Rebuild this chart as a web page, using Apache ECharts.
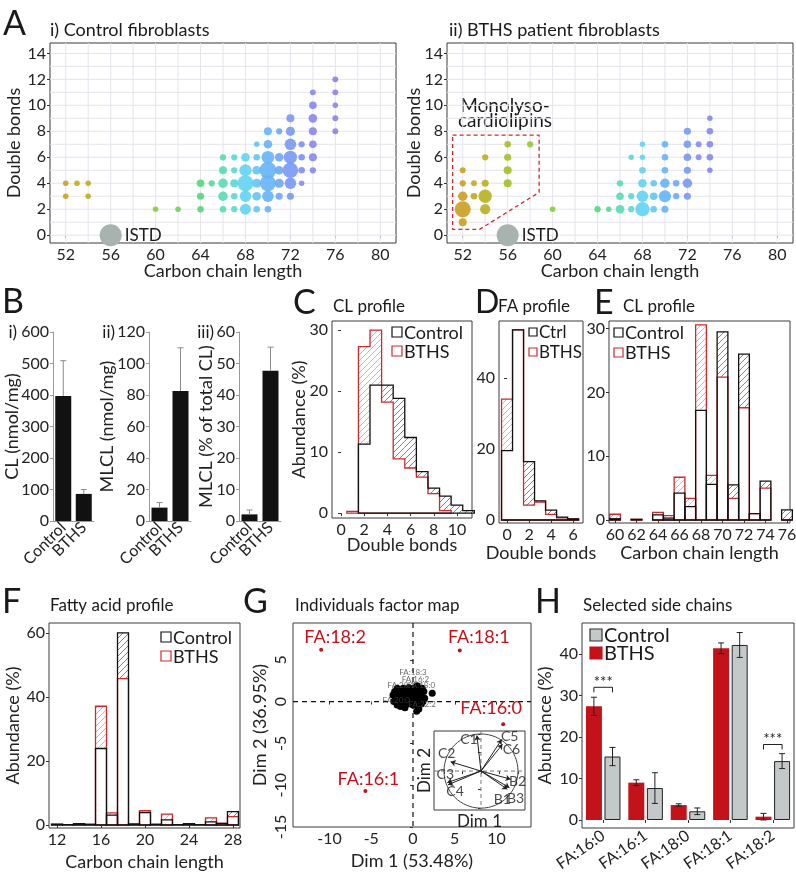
<!DOCTYPE html>
<html lang="en">
<head>
<meta charset="UTF-8">
<title>Cardiolipin profiles - control vs BTHS fibroblasts</title>
<script src="https://cdn.jsdelivr.net/npm/echarts@6/dist/echarts.min.js"></script>
<style>
  html, body { margin: 0; padding: 0; background: #fff; }
  #main { width: 796px; height: 887px; }
</style>
</head>
<body>
<div id="main"></div>
<script type="text/javascript">
  var FONT = 'Lato';
  var RED = '#c4121a';
  var OUT_RED = '#cc2a2f';
  var TXT = '#1a1a1a';

  // ---------- A: cardiolipin species [carbon chain length, double bonds, abundance %]
  var ctrlSpecies = [
    [52, 4, 0.3], [52, 3, 0.3], [53, 4, 0.3], [54, 4, 0.3], [54, 3, 0.3],
    [60, 2, 0.3], [62, 2, 0.3],
    [64, 4, 1.0], [64, 3, 0.8], [64, 2, 0.6], [65, 4, 0.5],
    [66, 6, 0.5], [66, 5, 1.2], [66, 4, 2.0], [66, 3, 2.0], [66, 2, 0.6],
    [67, 6, 0.5], [67, 5, 0.5], [67, 4, 1.2], [67, 3, 0.6], [67, 2, 0.5],
    [68, 6, 1.5], [68, 5, 4.0], [68, 4, 8.0], [68, 3, 3.5], [68, 2, 3.0],
    [69, 7, 0.3], [69, 6, 0.6], [69, 5, 1.5], [69, 4, 1.8], [69, 3, 1.5], [69, 2, 0.6],
    [70, 8, 1.2], [70, 7, 1.5], [70, 6, 4.5], [70, 5, 9.0], [70, 4, 8.0], [70, 3, 3.5], [70, 2, 0.6],
    [71, 8, 0.5], [71, 6, 1.5], [71, 5, 1.5], [71, 4, 1.8], [71, 3, 0.8],
    [72, 9, 1.2], [72, 8, 1.8], [72, 7, 3.5], [72, 6, 5.0], [72, 5, 7.5], [72, 4, 3.5], [72, 3, 0.8],
    [73, 7, 0.5], [73, 6, 0.6], [73, 5, 0.6], [73, 4, 0.3],
    [74, 11, 0.4], [74, 10, 1.0], [74, 9, 1.5], [74, 8, 1.2], [74, 7, 1.0], [74, 6, 1.2], [74, 5, 0.5],
    [76, 12, 0.4], [76, 11, 0.4], [76, 10, 0.3], [76, 9, 0.4], [76, 8, 0.4]
  ];
  var bthsSpecies = [
    [52, 5, 0.4], [52, 4, 0.5], [52, 3, 2.0], [52, 2, 8.0], [52, 1, 1.2],
    [53, 4, 0.4], [53, 3, 0.6],
    [54, 6, 0.5], [54, 4, 0.8], [54, 3, 5.0], [54, 2, 2.5],
    [56, 7, 0.6], [56, 6, 0.8], [56, 5, 1.2], [56, 4, 1.2],
    [58, 7, 0.5],
    [60, 2, 0.3],
    [64, 2, 0.5], [65, 2, 0.3], [66, 4, 0.5], [66, 3, 1.0], [66, 2, 1.5],
    [67, 6, 0.3], [67, 3, 0.5], [67, 2, 0.5],
    [68, 7, 0.3], [68, 6, 0.3], [68, 5, 0.6], [68, 4, 1.5], [68, 3, 3.5], [68, 2, 6.0],
    [69, 4, 0.6], [69, 3, 1.0], [69, 2, 0.6],
    [70, 7, 0.6], [70, 6, 0.6], [70, 5, 0.6], [70, 4, 2.0], [70, 3, 4.0], [70, 2, 0.8],
    [71, 4, 0.6], [71, 3, 0.5],
    [72, 8, 0.8], [72, 7, 1.0], [72, 6, 1.0], [72, 5, 0.8], [72, 4, 2.0], [72, 3, 0.8],
    [73, 7, 0.4], [73, 6, 0.4],
    [74, 9, 0.3], [74, 8, 0.6], [74, 7, 0.6], [74, 6, 0.6], [74, 5, 0.3]
  ];
  var istd = [[56, 0]];
  var carbonTicks = [52, 56, 60, 64, 68, 72, 76, 80];
  var bondTicks = [0, 2, 4, 6, 8, 10, 12, 14];
  var gridXs = [52, 54, 56, 58, 60, 62, 64, 66, 68, 70, 72, 74, 76, 78, 80];
  var gridYs = [0, 1, 2, 3, 4, 5, 6, 7, 8, 9, 10, 11, 12, 13, 14];
  var mlclZone = [[51.1, 7.7], [58.8, 7.7], [58.8, 3.3], [53.5, 0.45], [51.1, 0.45], [51.1, 7.7]];

  // ---------- B: totals
  var groups = ['Control', 'BTHS'];
  var clMean = [397, 86], clErr = [112, 14];
  var mlclMean = [8.5, 82.5], mlclErr = [3.2, 27.5];
  var mlclPct = [2.1, 47.7], mlclPctErr = [1.4, 7.5];

  // ---------- C: CL profile by double bonds
  var cBonds = [0, 1, 2, 3, 4, 5, 6, 7, 8, 9, 10, 11];
  var cCtrl = [0, 0, 11.3, 21.0, 21.0, 18.8, 12.4, 6.8, 4.1, 2.8, 1.3, 0.4];
  var cBths = [0, 0.3, 27.3, 30.0, 18.2, 8.9, 7.4, 5.9, 3.2, 0.4, 0, 0];

  // ---------- D: FA profile by double bonds
  var dBonds = [0, 1, 2, 3, 4, 5, 6];
  var dCtrl = [19.5, 53.5, 16.4, 5.4, 2.8, 0.8, 0.3];
  var dBths = [34.0, 53.5, 4.2, 5.0, 1.6, 0.6, 0.3];

  // ---------- E: CL profile by chain length
  var eLength = [60, 62, 64, 65, 66, 67, 68, 69, 70, 71, 72, 73, 74, 76];
  var eCtrl = [0.2, 0.1, 0.8, 0.3, 4.2, 2.1, 17.2, 5.6, 29.5, 5.5, 26.0, 1.0, 6.1, 1.6];
  var eBths = [0.9, 0.1, 1.2, 0.7, 6.7, 3.4, 30.6, 7.0, 22.4, 3.4, 17.6, 1.0, 5.0, 0];

  // ---------- F: fatty acid profile
  var fLength = [12, 13, 14, 15, 16, 17, 18, 19, 20, 21, 22, 23, 24, 25, 26, 27, 28];
  var fCtrl = [0.2, 0.1, 0.4, 0.2, 23.9, 3.1, 60.0, 0.3, 3.9, 0.2, 1.6, 0.1, 0.4, 0.1, 1.0, 0.5, 4.2];
  var fBths = [0.3, 0.1, 0.3, 0.2, 37.1, 3.8, 45.7, 0.3, 4.5, 0.2, 3.4, 0.1, 0.3, 0.1, 2.2, 0.5, 2.6];

  // ---------- G: PCA individuals
  var pcaNames = ['FA:18:2', 'FA:18:1', 'FA:16:0', 'FA:16:1'];
  var pcaX = [-11.0, 5.6, 10.8, -5.7];
  var pcaY = [6.2, 6.1, -2.7, -10.7];
  var clusterPts = [
    [-1.9, 1.6], [-1.2, 1.6], [-0.5, 1.7], [0.1, 1.6], [0.6, 1.5], [1.1, 1.6],
    [-2.2, 1.2], [-1.6, 1.2], [-1.0, 1.3], [-0.4, 1.2], [0.2, 1.1], [0.8, 1.2], [1.3, 1.2],
    [-2.4, 0.8], [-1.8, 0.8], [-1.3, 0.9], [-0.7, 0.8], [-0.1, 0.8], [0.4, 0.7], [1.0, 0.8],
    [-2.1, 0.4], [-1.5, 0.4], [-0.9, 0.5], [-0.3, 0.4], [0.3, 0.3], [0.9, 0.4], [1.4, 0.4],
    [-2.3, 0.0], [-1.7, 0.0], [-1.1, 0.1], [-0.5, 0.0], [0.1, 0.0], [0.6, 0.1], [1.2, 0.0],
    [-1.9, -0.4], [-1.2, -0.4], [-0.6, -0.3], [0.0, -0.4], [0.5, -0.4], [1.0, -0.3],
    [-1.5, -0.6], [-0.96, -0.75], [0.7, -0.9], [0.44, -1.15], [2.3, 1.0],
    [-0.8, 1.5], [0.5, 1.9], [-1.6, 0.2], [0.7, -0.2], [-0.2, 1.0]
  ];
  var clusterNames = ['FA:18:3', 'FA:16:2', 'FA:28:1', 'FA:18:0', 'FA:20:0', 'FA:22:2'];
  var clusterNameX = [0.0, 0.3, -1.4, 1.0, -2.0, 1.1];
  var clusterNameY = [3.5, 2.7, 1.9, 1.9, 0.15, -0.35];

  // ---------- G inset: variable loadings
  var loadNames = ['C1', 'C5', 'C6', 'C2', 'C3', 'C4', 'B2', 'B1', 'B3'];
  var loadX = [-0.11, 0.56, 0.58, -0.82, -0.91, -0.89, 0.80, 0.71, 0.77];
  var loadY = [0.96, 0.85, 0.72, 0.25, -0.31, -0.37, -0.22, -0.49, -0.45];

  // ---------- H: selected side chains
  var hChains = ['FA:16:0', 'FA:16:1', 'FA:18:0', 'FA:18:1', 'FA:18:2'];
  var hBths = [27.4, 9.0, 3.6, 41.4, 0.8];
  var hBthsSd = [2.2, 0.7, 0.3, 1.3, 0.8];
  var hCtrl = [15.3, 7.7, 2.1, 42.2, 14.2];
  var hCtrlSd = [2.2, 3.7, 0.8, 3.0, 1.8];
  var hSig = [['FA:16:0', 32.0], ['FA:18:2', 18.2]];

  // ---------- styles that are not data
  var hueStops = ['#c9a020', '#b8b020', '#a6be28', '#96c82e', '#80d036', '#68d556', '#55d680',
                  '#56dbb0', '#62d3f2', '#66b4f7', '#7898f4', '#8886ef', '#9a7ce8'];
  var pcaLabelOffset = { 'FA:18:2': [14, 2], 'FA:18:1': [19, 2], 'FA:16:0': [-12, -1], 'FA:16:1': [3, 3] };
  var loadLabelOffset = { C1: [-8, 4], C5: [8, -3], C6: [9, 5], C2: [-4, -8], C3: [-2, -8],
                          C4: [7, 7], B2: [7, 2], B1: [-5, 10], B3: [6, 11] };

  function hatch(color) {
    var n = 6;
    var c = document.createElement('canvas');
    c.width = n; c.height = n;
    var g = c.getContext('2d');
    g.fillStyle = '#fff'; g.fillRect(0, 0, n, n);
    g.strokeStyle = color; g.lineWidth = 0.8;
    g.beginPath();
    g.moveTo(0, n); g.lineTo(n, 0);
    g.moveTo(-1, 1); g.lineTo(1, -1);
    g.moveTo(n - 1, n + 1); g.lineTo(n + 1, n - 1);
    g.stroke();
    return { image: c, repeat: 'repeat' };
  }
  var redHatch = hatch('#e69494');
  var darkHatch = hatch('#666');

  function merge(a, b) {
    for (var k in b) {
      if (b[k] && typeof b[k] === 'object' && !Array.isArray(b[k]) && a[k] && typeof a[k] === 'object') merge(a[k], b[k]);
      else a[k] = b[k];
    }
    return a;
  }

  function box(l, t, w, h, framed, bg) {
    return { left: l, top: t, width: w, height: h, show: !!framed, borderColor: '#3a3a3a', borderWidth: 1,
             backgroundColor: bg || 'transparent', containLabel: false, outerBoundsMode: 'none' };
  }

  function valAxis(gi, min, max, ticks, extra) {
    return merge({
      type: 'value', gridIndex: gi, min: min, max: max,
      axisLine: { show: false },
      axisTick: { show: true, length: 3, customValues: ticks, lineStyle: { color: '#333' } },
      axisLabel: { customValues: ticks, fontFamily: FONT, fontSize: 16, color: '#222', margin: 4 },
      splitLine: { show: false },
      nameLocation: 'middle', nameMoveOverlap: false,
      nameTextStyle: { fontFamily: FONT, fontSize: 18, color: '#222' }
    }, extra || {});
  }

  function catAxis(gi, cats, extra) {
    return merge({
      type: 'category', gridIndex: gi, data: cats,
      axisLine: { show: true, lineStyle: { color: '#999' } },
      axisTick: { show: false },
      axisLabel: { interval: 0, fontFamily: FONT, fontSize: 16, color: '#222', margin: 4 },
      splitLine: { show: false }
    }, extra || {});
  }

  // reference lines through the whole grid (grid lines, zero lines)
  function guideSeries(gi, xs, ys, style, z) {
    var data = xs.map(function (v) { return [0, v]; }).concat(ys.map(function (v) { return [1, v]; }));
    return {
      type: 'custom', xAxisIndex: gi, yAxisIndex: gi, silent: true, z: z || 1, data: data,
      renderItem: function (params, api) {
        var cs = params.coordSys, v = api.value(1), s;
        if (api.value(0) === 0) {
          var p = api.coord([v, 0]);
          s = { x1: p[0], y1: cs.y, x2: p[0], y2: cs.y + cs.height };
        } else {
          var q = api.coord([0, v]);
          s = { x1: cs.x, y1: q[1], x2: cs.x + cs.width, y2: q[1] };
        }
        return { type: 'line', shape: s, style: style };
      }
    };
  }

  function hatchSeries(gi, xs, ctrl, bths) {
    return {
      type: 'custom', xAxisIndex: gi, yAxisIndex: gi, silent: true, z: 2,
      data: xs.map(function (x, i) { return [x, ctrl[i], bths[i]]; }),
      renderItem: function (params, api) {
        var x = api.value(0), c = api.value(1), b = api.value(2);
        if (Math.abs(c - b) < 1e-9) return;
        var p0 = api.coord([x - 0.5, Math.max(c, b)]);
        var p1 = api.coord([x + 0.5, Math.min(c, b)]);
        return { type: 'rect', shape: { x: p0[0], y: p0[1], width: p1[0] - p0[0], height: p1[1] - p0[1] },
                 style: { fill: b > c ? redHatch : darkHatch, stroke: null } };
      }
    };
  }

  function boxOutline(gi, xs, vals, color) {
    return {
      type: 'custom', xAxisIndex: gi, yAxisIndex: gi, silent: true, z: 3,
      data: xs.map(function (x, i) { return [x, vals[i]]; }),
      renderItem: function (params, api) {
        var a = api.coord([api.value(0) - 0.5, api.value(1)]);
        var b = api.coord([api.value(0) + 0.5, 0]);
        return { type: 'rect', shape: { x: a[0], y: a[1], width: b[0] - a[0], height: b[1] - a[1] },
                 style: { fill: 'none', stroke: color, lineWidth: 1.3 } };
      }
    };
  }

  function stepOutline(gi, xs, vals, color) {
    return {
      type: 'custom', xAxisIndex: gi, yAxisIndex: gi, silent: true, z: 3, data: [[xs[0], 0]],
      renderItem: function (params, api) {
        var lo = 0, hi = vals.length - 1;
        while (lo < hi && !vals[lo]) lo++;
        while (hi > lo && !vals[hi]) hi--;
        var pts = [api.coord([xs[lo] - 0.5, 0])];
        for (var i = lo; i <= hi; i++) {
          pts.push(api.coord([xs[i] - 0.5, vals[i]]));
          pts.push(api.coord([xs[i] + 0.5, vals[i]]));
        }
        pts.push(api.coord([xs[hi] + 0.5, 0]));
        return { type: 'polygon', shape: { points: pts }, style: { fill: 'none', stroke: color, lineWidth: 1.3 } };
      }
    };
  }

  function errorSeries(gi, means, errs, shift, color, twoSided) {
    return {
      type: 'custom', xAxisIndex: gi, yAxisIndex: gi, silent: true, z: 4,
      data: means.map(function (m, i) { return [i, m, errs[i]]; }),
      renderItem: function (params, api) {
        var i = api.value(0), m = api.value(1), e = api.value(2);
        var top = api.coord([i, m + e]), bot = api.coord([i, twoSided ? m - e : m]);
        var x = top[0] + shift, w = 3, st = { stroke: color, lineWidth: 1 };
        var kids = [
          { type: 'line', shape: { x1: x, y1: top[1], x2: x, y2: bot[1] }, style: st },
          { type: 'line', shape: { x1: x - w, y1: top[1], x2: x + w, y2: top[1] }, style: st }
        ];
        if (twoSided) kids.push({ type: 'line', shape: { x1: x - w, y1: bot[1], x2: x + w, y2: bot[1] }, style: st });
        return { type: 'group', children: kids };
      }
    };
  }

  function bubble(v) { return 3 + 4.6 * Math.sqrt(v[2]); }

  function label(x, y, s, size, align, extra) {
    var st = { text: s, x: x, y: y, font: (size || 17) + 'px ' + FONT, fill: TXT,
               textAlign: align || 'left', align: align || 'left',
               textVerticalAlign: 'middle', verticalAlign: 'middle' };
    return { type: 'text', silent: true, style: merge(st, extra || {}) };
  }

  function legendItem(x, y, s, stroke, fill, text, size) {
    return [
      { type: 'rect', silent: true, shape: { x: x, y: y, width: s, height: s },
        style: { fill: fill || '#fff', stroke: stroke, lineWidth: 1.2 } },
      label(x + s + 2, y + s / 2 + 1, text, size)
    ];
  }

  // ---------- grids
  var grids = [
    box(50, 43, 346, 200, true),     // 0 A i
    box(447, 43, 346, 200, true),    // 1 A ii
    box(53, 332, 41, 189, false),    // 2 B i
    box(149, 332, 42, 189, false),   // 3 B ii
    box(239, 332, 42, 189, false),   // 4 B iii
    box(332, 321, 140, 197, true),   // 5 C
    box(499, 321, 84, 202, true),    // 6 D
    box(609, 321, 181, 202, true),   // 7 E
    box(49, 623, 191, 205, true),    // 8 F
    box(293, 623, 238, 204, true),   // 9 G
    box(434, 731, 91, 79, true, '#fff'), // 10 G inset
    box(582, 623, 212, 205, true)    // 11 H
  ];

  var xAxes = [
    valAxis(0, 50.6, 81.4, carbonTicks, { name: 'Carbon chain length', nameGap: 19 }),
    valAxis(1, 50.6, 81.4, carbonTicks, { name: 'Carbon chain length', nameGap: 19 }),
    catAxis(2, groups, { axisLabel: { rotate: 45 } }),
    catAxis(3, groups, { axisLabel: { rotate: 45 } }),
    catAxis(4, groups, { axisLabel: { rotate: 45 } }),
    valAxis(5, -0.78, 11.3, [0, 2, 4, 6, 8, 10], { name: 'Double bonds', nameGap: 18 }),
    valAxis(6, -0.73, 6.9, [0, 2, 4, 6], { name: 'Double bonds', nameGap: 21 }),
    valAxis(7, 59.44, 76.28, [60, 62, 64, 66, 68, 70, 72, 74, 76], { name: 'Carbon chain length', nameGap: 21 }),
    valAxis(8, 11.27, 28.64, [12, 16, 20, 24, 28], { name: 'Carbon chain length', nameGap: 25 }),
    valAxis(9, -14.37, 14.13, [-10, -5, 0, 5, 10], { name: 'Dim 1 (53.48%)', nameGap: 25 }),
    valAxis(10, -1.27, 1.19, [-1, -0.5, 0, 0.5, 1], { name: 'Dim 1', nameGap: 3, axisLabel: { show: false },
      nameTextStyle: { fontSize: 17 } }),
    catAxis(11, hChains, { axisLine: { show: false }, axisTick: { show: true, length: 3, alignWithLabel: true, lineStyle: { color: '#333' } },
      axisLabel: { rotate: 35, margin: 6 } })
  ];

  var yAxes = [
    valAxis(0, -0.6, 14.8, bondTicks, { name: 'Double bonds', nameGap: 27 }),
    valAxis(1, -0.6, 14.8, bondTicks, { name: 'Double bonds', nameGap: 24 }),
    valAxis(2, 0, 600, null, { interval: 100, name: 'CL (nmol/mg)', nameGap: 32,
      axisLine: { show: true, lineStyle: { color: '#999' } }, axisTick: { lineStyle: { color: '#999' } } }),
    valAxis(3, 0, 120, null, { interval: 20, name: 'MLCL (nmol/mg)', nameGap: 33,
      axisLine: { show: true, lineStyle: { color: '#999' } }, axisTick: { lineStyle: { color: '#999' } } }),
    valAxis(4, 0, 60, null, { interval: 10, name: 'MLCL (% of total CL)', nameGap: 24,
      axisLine: { show: true, lineStyle: { color: '#999' } }, axisTick: { lineStyle: { color: '#999' } } }),
    valAxis(5, -0.8, 31.5, [0, 10, 20, 30], { name: 'Abundance (%)', nameGap: 24 }),
    valAxis(6, -0.85, 56, [0, 20, 40], {}),
    valAxis(7, -0.47, 31.2, [0, 10, 20, 30], {}),
    valAxis(8, -0.94, 63.1, [0, 20, 40, 60], { name: 'Abundance (%)', nameGap: 27 }),
    valAxis(9, -15, 9.4, [-15, -10, -5, 0, 5], { name: 'Dim 2 (36.95%)', nameGap: 24, axisLabel: { rotate: 90 } }),
    valAxis(10, -1.05, 1.08, [-1, -0.5, 0, 0.5, 1], { name: 'Dim 2', nameGap: 1, axisLabel: { show: false },
      nameTextStyle: { fontSize: 17 } }),
    valAxis(11, -1.93, 47.5, [0, 10, 20, 30, 40], { name: 'Abundance (%)', nameGap: 28 })
  ];
  // panel B keeps auto ticks from interval
  [2, 3, 4].forEach(function (i) { delete yAxes[i].axisLabel.customValues; delete yAxes[i].axisTick.customValues; });

  // ---------- series
  var GRIDLINE = { stroke: '#e4e4ec', lineWidth: 1 };
  var series = [];

  series.push(guideSeries(0, gridXs, gridYs, GRIDLINE));
  series.push(guideSeries(1, gridXs, gridYs, GRIDLINE));
  var idxA1 = series.length;
  series.push({ type: 'scatter', name: 'Control species', xAxisIndex: 0, yAxisIndex: 0, data: ctrlSpecies,
                symbolSize: bubble, itemStyle: { opacity: 0.9, borderWidth: 0 }, z: 3 });
  var idxA2 = series.length;
  series.push({ type: 'scatter', name: 'BTHS species', xAxisIndex: 1, yAxisIndex: 1, data: bthsSpecies,
                symbolSize: bubble, itemStyle: { opacity: 0.9, borderWidth: 0 }, z: 3 });
  [0, 1].forEach(function (gi) {
    series.push({ type: 'scatter', name: 'ISTD', xAxisIndex: gi, yAxisIndex: gi, data: istd, symbolSize: 22,
                  itemStyle: { color: '#a8b3af', opacity: 1 }, z: 3,
                  label: { show: true, position: 'right', distance: 3, formatter: 'ISTD',
                           fontFamily: FONT, fontSize: 17, color: TXT } });
  });
  series.push({ type: 'line', name: 'MLCL region', xAxisIndex: 1, yAxisIndex: 1, data: mlclZone, symbol: 'none',
                silent: true, z: 4, lineStyle: { color: OUT_RED, width: 1.3, type: [4, 3] } });

  // B
  [[2, clMean, clErr], [3, mlclMean, mlclErr], [4, mlclPct, mlclPctErr]].forEach(function (b) {
    series.push({ type: 'bar', xAxisIndex: b[0], yAxisIndex: b[0], data: b[1], barWidth: 16,
                  itemStyle: { color: '#111' }, z: 2 });
    series.push(errorSeries(b[0], b[1], b[2], 0, '#8a8a8a', false));
  });

  // C, D: step histograms
  series.push(hatchSeries(5, cBonds, cCtrl, cBths));
  series.push(stepOutline(5, cBonds, cBths, OUT_RED));
  series.push(stepOutline(5, cBonds, cCtrl, '#111'));
  series.push(hatchSeries(6, dBonds, dCtrl, dBths));
  series.push(stepOutline(6, dBonds, dBths, OUT_RED));
  series.push(stepOutline(6, dBonds, dCtrl, '#111'));

  // E, F: boxed bars
  series.push(hatchSeries(7, eLength, eCtrl, eBths));
  series.push(boxOutline(7, eLength, eBths, OUT_RED));
  series.push(boxOutline(7, eLength, eCtrl, '#111'));
  series.push(hatchSeries(8, fLength, fCtrl, fBths));
  series.push(boxOutline(8, fLength, fBths, OUT_RED));
  series.push(boxOutline(8, fLength, fCtrl, '#111'));

  // G: individuals factor map
  series.push(guideSeries(9, [0], [0], { stroke: '#111', lineWidth: 1.2, lineDash: [5, 4] }, 1));
  series.push({ type: 'scatter', xAxisIndex: 9, yAxisIndex: 9, data: clusterPts, symbolSize: 7,
                itemStyle: { color: '#000', opacity: 1, borderWidth: 0 }, z: 3, silent: true });
  series.push({ type: 'scatter', xAxisIndex: 9, yAxisIndex: 9, symbolSize: 0, z: 4, silent: true,
                data: clusterNames.map(function (n, i) { return { name: n, value: [clusterNameX[i], clusterNameY[i]] }; }),
                label: { show: true, position: 'inside', formatter: '{b}', fontFamily: FONT, fontSize: 8, color: '#444' } });
  series.push({ type: 'scatter', xAxisIndex: 9, yAxisIndex: 9, symbolSize: 4, z: 4, silent: true,
                itemStyle: { color: RED, opacity: 1 },
                data: pcaNames.map(function (n, i) {
                  return { name: n, value: [pcaX[i], pcaY[i]], label: { offset: pcaLabelOffset[n] } };
                }),
                label: { show: true, position: 'top', distance: 4, formatter: '{b}', fontFamily: FONT, fontSize: 18,
                         color: RED, textBorderWidth: 0, opacity: 1 } });

  // G inset: correlation circle
  series.push({ type: 'custom', xAxisIndex: 10, yAxisIndex: 10, silent: true, z: 2, data: [[0, 0]],
                renderItem: function (params, api) {
                  var c = api.coord([0, 0]), r = api.size([1, 1]);
                  return { type: 'ellipse', shape: { cx: c[0], cy: c[1], rx: r[0], ry: r[1] },
                           style: { fill: 'none', stroke: '#444', lineWidth: 1 } };
                } });
  series.push(guideSeries(10, [0], [0], { stroke: '#777', lineWidth: 1, lineDash: [4, 3] }, 2));
  series.push({ type: 'lines', coordinateSystem: 'cartesian2d', xAxisIndex: 10, yAxisIndex: 10, z: 3, silent: true,
                symbol: ['none', 'arrow'], symbolSize: 5, lineStyle: { color: '#222', width: 1, opacity: 1 },
                data: loadNames.map(function (n, i) { return { name: n, coords: [[0, 0], [loadX[i], loadY[i]]] }; }) });
  series.push({ type: 'scatter', xAxisIndex: 10, yAxisIndex: 10, symbolSize: 0, z: 4, silent: true,
                data: loadNames.map(function (n, i) {
                  return { name: n, value: [loadX[i], loadY[i]], label: { offset: loadLabelOffset[n] } };
                }),
                label: { show: true, position: 'inside', formatter: '{b}', fontFamily: FONT, fontSize: 14, color: TXT } });

  // H: selected side chains
  var BAR_W = 16, HALF = 9.3;
  series.push({ type: 'bar', name: 'BTHS', xAxisIndex: 11, yAxisIndex: 11, data: hBths, barWidth: BAR_W, barGap: '16%',
                itemStyle: { color: RED }, z: 2 });
  series.push({ type: 'bar', name: 'Control', xAxisIndex: 11, yAxisIndex: 11, data: hCtrl, barWidth: BAR_W, barGap: '16%',
                itemStyle: { color: '#c3c8c8', borderColor: '#222', borderWidth: 1 }, z: 2 });
  series.push(errorSeries(11, hBths, hBthsSd, -HALF, '#222', true));
  series.push(errorSeries(11, hCtrl, hCtrlSd, HALF, '#222', true));
  series.push({ type: 'custom', xAxisIndex: 11, yAxisIndex: 11, silent: true, z: 4,
                data: hSig.map(function (s) { return [hChains.indexOf(s[0]), s[1]]; }),
                renderItem: function (params, api) {
                  var c = api.coord([api.value(0), api.value(1)]);
                  var l = c[0] - HALF, r = c[0] + HALF, y = c[1];
                  return { type: 'group', children: [
                    { type: 'polyline', shape: { points: [[l, y + 5], [l, y], [r, y], [r, y + 5]] },
                      style: { fill: 'none', stroke: '#222', lineWidth: 1 } },
                    { type: 'text', style: { text: '***', x: c[0], y: y - 5, font: '15px ' + FONT, fill: '#222',
                      textAlign: 'center', align: 'center', textVerticalAlign: 'middle', verticalAlign: 'middle' } }
                  ] };
                } });

  // ---------- titles, panel letters, legends
  var graphics = [
    label(3, 24, 'A', 34),
    label(50, 30, 'i) Control fibroblasts', 18),
    label(449, 30, 'ii) BTHS patient fibroblasts', 18),
    label(505, 113, 'Monolyso-\ncardiolipins', 19, 'center', { lineHeight: 15 }),
    label(2, 302, 'B', 34),
    label(17, 333, 'i)', 17, 'right'),
    label(115, 333, 'ii)', 17, 'right'),
    label(214, 333, 'iii)', 17, 'right'),
    label(293, 303, 'C', 34),
    label(333, 307, 'CL profile', 17),
    label(475, 303, 'D', 32),
    label(498, 307, 'FA profile', 17),
    label(594, 303, 'E', 34),
    label(623, 307, 'CL profile', 17),
    label(2, 602, 'F', 34),
    label(50, 606, 'Fatty acid profile', 17),
    label(243, 602, 'G', 34),
    label(295, 606, 'Individuals factor map', 17),
    label(535, 602, 'H', 34),
    label(583, 606, 'Selected side chains', 17)
  ]
    .concat(legendItem(392, 327, 10, '#111', null, 'Control', 18))
    .concat(legendItem(392, 346, 10, OUT_RED, null, 'BTHS', 18))
    .concat(legendItem(529, 328, 8, '#111', null, 'Ctrl', 17))
    .concat(legendItem(529, 348, 8, OUT_RED, null, 'BTHS', 17))
    .concat(legendItem(614, 328, 9, '#111', null, 'Control', 18))
    .concat(legendItem(614, 348, 9, OUT_RED, null, 'BTHS', 18))
    .concat(legendItem(161, 632, 10, '#111', null, 'Control', 18))
    .concat(legendItem(161, 651, 10, OUT_RED, null, 'BTHS', 18))
    .concat(legendItem(590, 629, 12, '#333', '#c3c8c8', 'Control', 20))
    .concat(legendItem(590, 647, 12, RED, RED, 'BTHS', 20));

  var chartDom = document.getElementById('main');
  var myChart = echarts.init(chartDom, null, { renderer: 'canvas' });
  var option = {
    animation: false,
    backgroundColor: '#fff',
    textStyle: { fontFamily: FONT },
    grid: grids,
    xAxis: xAxes,
    yAxis: yAxes,
    visualMap: [{
      type: 'continuous', show: false, seriesIndex: [idxA1, idxA2], dimension: 0,
      min: 52, max: 76, inRange: { color: hueStops }
    }],
    graphic: { elements: graphics },
    series: series
  };
  option && myChart.setOption(option);
</script>
</body>
</html>
